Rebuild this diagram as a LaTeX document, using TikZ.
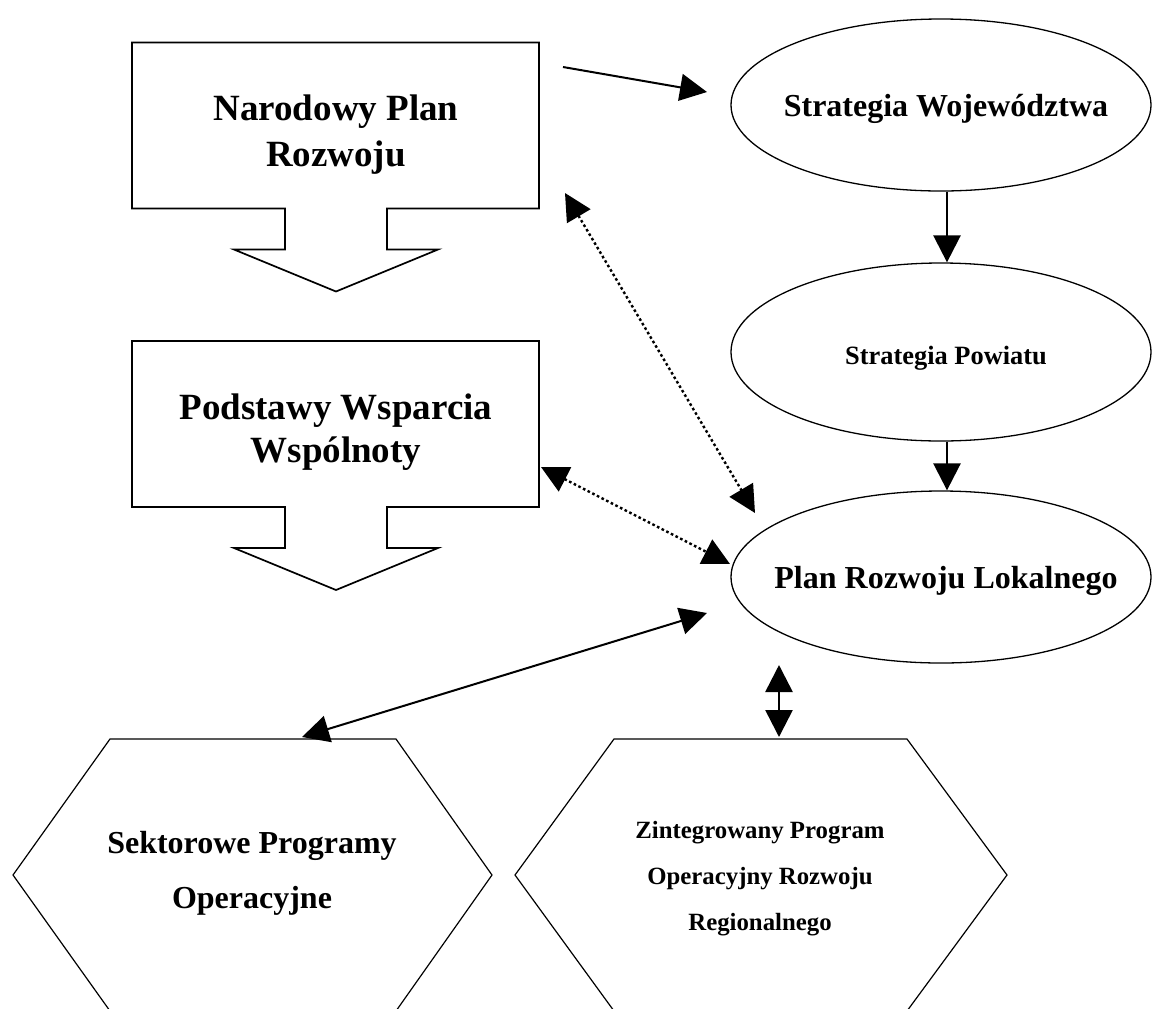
\documentclass[tikz,border=0pt]{standalone}
\usepackage{fontspec}
\setmainfont{Liberation Serif}
\usetikzlibrary{arrows.meta, shapes.geometric}

\tikzset{
  downbox/.pic={
    \draw[line width=0.85pt, line join=miter]
      (-51,83) -- (-204,83) -- (-204,-83) -- (203,-83) -- (203,83) -- (51,83)
      -- (51,124) -- (102,124) -- (0,166) -- (-102,124) -- (-51,124) -- cycle;
  }
}

\begin{document}
\begin{tikzpicture}[x=0.5pt, y=-0.5pt,
    every node/.style={align=center},
    oval/.style={ellipse, draw, line width=0.65pt, minimum width=210pt, minimum height=86pt, inner sep=0pt},
    hexline/.style={draw, line width=0.6pt, line join=miter},
    big/.style={font=\bfseries\fontsize{18.5}{23}\selectfont},
    mid/.style={font=\bfseries\fontsize{16}{27.5}\selectfont},
    small/.style={font=\bfseries\fontsize{13.2}{16}\selectfont},
    tiny/.style={font=\bfseries\fontsize{12.4}{23}\selectfont},
    arr/.style={-{Triangle[length=13.5pt, width=13.5pt]}, line width=1pt},
    darr/.style={{Triangle[length=13.5pt, width=13.5pt]}-{Triangle[length=13.5pt, width=13.5pt]}, line width=1pt},
    dotline/.style={darr, line width=1.2pt, dash pattern=on 1.3pt off 1.3pt}]

  \clip (0,0) rectangle (1152,1008);

  % left column
  \pic at (336,125.5) {downbox};
  \node[big] (npr) at (336,134.5) {Narodowy Plan\\Rozwoju};
  \pic at (336,424) {downbox};
  \node[font=\bfseries\fontsize{18.5}{21.5}\selectfont] (pww) at (336,432) {Podstawy Wsparcia\\Wspólnoty};

  % right column
  \node[oval, label={[mid, xshift=2.5pt, yshift=-2pt]center:Strategia Województwa}] (woj) at (941,105) {};
  \node[oval, minimum height=89pt, label={[small, xshift=2.5pt, yshift=-3pt]center:Strategia Powiatu}] (pow) at (941,352) {};
  \node[oval, label={[mid, xshift=2.5pt, yshift=-1.75pt]center:Plan Rozwoju Lokalnego}] (prl) at (941,577) {};

  % programmes
  \draw[hexline] (110,739) -- (396,739) -- (492,875) -- (396,1011) -- (110,1011) -- (13,875) -- cycle;
  \node[mid] (sop) at (252,873) {Sektorowe Programy\\Operacyjne};
  \draw[hexline] (614,739) -- (907,739) -- (1007,875) -- (907,1011) -- (614,1011) -- (515,875) -- cycle;
  \node[tiny] (zporr) at (760,878.5) {Zintegrowany Program\\Operacyjny Rozwoju\\Regionalnego};

  % free ends of the connectors
  \coordinate (npr-out) at (563,67);
  \coordinate (woj-in)  at (707,92);
  \coordinate (npr-dot) at (565,193);
  \coordinate (prl-dot) at (755,513);
  \coordinate (pww-dot) at (541,467);
  \coordinate (prl-dot2) at (730,564);
  \coordinate (prl-sop) at (707,613);
  \coordinate (sop-top) at (302,737);
  \coordinate (prl-bot) at (779,665);
  \coordinate (zporr-top) at (779,737);

  \path[arr]
    (npr-out) edge (woj-in)
    ([xshift=3pt]woj.south) edge[line width=1.3pt] ([xshift=3pt]pow.north)
    ([xshift=3pt]pow.south) edge[line width=1.3pt] ([xshift=3pt]prl.north);
  \path[dotline]
    (npr-dot) edge (prl-dot)
    (pww-dot) edge (prl-dot2);
  \path[darr]
    (prl-sop) edge (sop-top)
    (prl-bot) edge[line width=1.3pt] (zporr-top);
\end{tikzpicture}
\end{document}
